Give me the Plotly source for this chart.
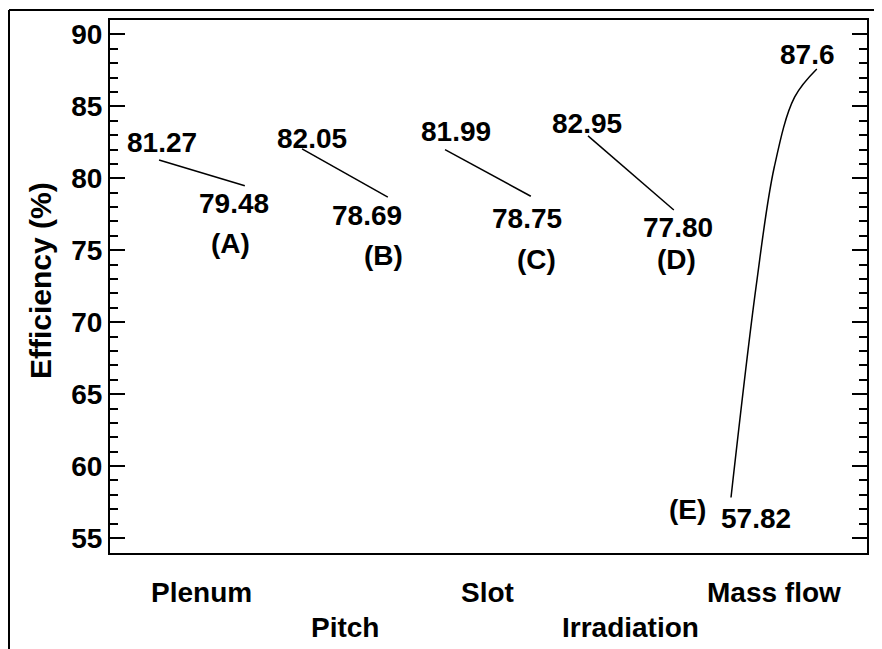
import plotly.graph_objects as go

# ---- data ----
factors = ["Plenum", "Pitch", "Slot", "Irradiation", "Mass flow"]
letters = ["(A)", "(B)", "(C)", "(D)", "(E)"]
low_vals = [81.27, 82.05, 81.99, 82.95, 57.82]
high_vals = [79.48, 78.69, 78.75, 77.80, 87.6]
low_text = ["81.27", "82.05", "81.99", "82.95", "57.82"]
high_text = ["79.48", "78.69", "78.75", "77.80", "87.6"]
# traced course of the curved Mass-flow response (level fraction 0..1, efficiency)
e_curve_level = [0.0, 0.293, 0.505, 0.741, 1.0]
e_curve_eff = [57.82, 72.5, 80.8, 85.64, 87.6]
y_ticks = [55, 60, 65, 70, 75, 80, 85, 90]

# ---- layout constants (page body has an 8px offset) ----
W, H = 874, 641
ML, MR, MT, MB = 102, 15, 10, 96
LEVEL_GAP = 0.6
FONT = "Liberation Sans, Arial, sans-serif"

fig = go.Figure()
for i in range(4):
    fig.add_trace(go.Scatter(
        x=[i, i + LEVEL_GAP], y=[low_vals[i], high_vals[i]],
        mode="lines", line=dict(color="black", width=1.5), showlegend=False))
fig.add_trace(go.Scatter(
    x=[4 + LEVEL_GAP * v for v in e_curve_level], y=e_curve_eff,
    mode="lines", line=dict(color="black", width=1.5, shape="spline", smoothing=1.0),
    showlegend=False))

low_off = [(3, 18), (10, 10), (11, 18), (-1, 12), (25, -21)]
high_off = [(-11, -18), (-21, -18), (-4, -22), (4, -18), (-9, 14)]
letter_off = [(-14, -58, 1), (-4, -58, 1), (6, -63, 1), (3, -50, 1), (-44, -12, 0)]

bold = dict(size=28, color="black", family=FONT, weight="bold")
ann = []
for i in range(5):
    xl, xh = i, i + LEVEL_GAP
    ann.append(dict(x=xl, y=low_vals[i], xref="x", yref="y", text=low_text[i],
                    showarrow=False, xshift=low_off[i][0], yshift=low_off[i][1], font=bold))
    ann.append(dict(x=xh, y=high_vals[i], xref="x", yref="y", text=high_text[i],
                    showarrow=False, xshift=high_off[i][0], yshift=high_off[i][1], font=bold))
    base_x = xh if letter_off[i][2] else xl
    base_y = high_vals[i] if letter_off[i][2] else low_vals[i]
    ann.append(dict(x=base_x, y=base_y, xref="x", yref="y", text=letters[i],
                    showarrow=False, xshift=letter_off[i][0], yshift=letter_off[i][1], font=bold))
    ann.append(dict(x=i + LEVEL_GAP / 2, y=0, xref="x", yref="paper",
                    text=factors[i], showarrow=False,
                    yanchor="middle", yshift=-39 if i % 2 == 0 else -74, font=bold))

pw, ph = W - ML - MR, H - MT - MB
def px(xp): return (xp - ML) / pw
def py(yp): return (H - MB - yp) / ph

# y-axis title
ann.append(dict(x=px(32), y=py(272), xref="paper", yref="paper", text="Efficiency (%)",
                textangle=-90, showarrow=False, xanchor="center", yanchor="middle",
                font=dict(size=30, color="black", family=FONT, weight="bold")))

# outer frame
shapes = [
    dict(type="line", xref="paper", yref="paper", x0=px(1), y0=py(0), x1=px(W + 2), y1=py(0),
         line=dict(color="black", width=2)),
    dict(type="line", xref="paper", yref="paper", x0=px(1), y0=py(0), x1=px(1), y1=py(H + 2),
         line=dict(color="black", width=2)),
]

fig.update_layout(
    width=W, height=H, margin=dict(l=ML, r=MR, t=MT, b=MB),
    paper_bgcolor="white", plot_bgcolor="white",
    annotations=ann, shapes=shapes, showlegend=False,
    font=dict(family=FONT, color="black"),
)
fig.update_xaxes(range=[-0.343, 4.951], showgrid=False, zeroline=False,
                 showticklabels=False, ticks="", showline=True, linecolor="black",
                 linewidth=2, mirror=True)
fig.update_yaxes(range=[53.96, 91.0], showgrid=False, zeroline=False,
                 tickvals=y_ticks, ticks="inside", ticklen=15, tickwidth=2,
                 tickcolor="black", showline=True, linecolor="black", linewidth=2,
                 mirror="ticks",
                 minor=dict(dtick=1, ticks="inside", ticklen=8, tickwidth=2,
                            tickcolor="black", showgrid=False),
                 tickfont=dict(size=28, color="black", family=FONT, weight="bold"))

fig.write_html("out.html")
